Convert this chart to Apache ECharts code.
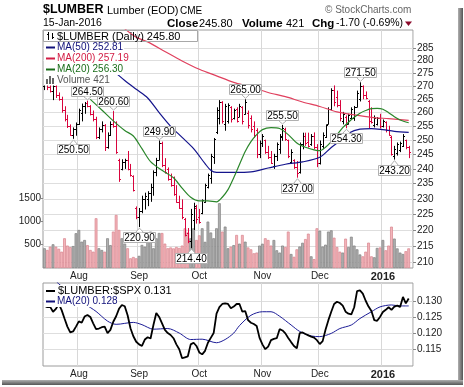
<!DOCTYPE html>
<html><head><meta charset="utf-8">
<script src="https://cdn.jsdelivr.net/npm/echarts@6/dist/echarts.min.js"></script>
<style>html,body{margin:0;padding:0;background:#fff}#c{width:464px;height:387px}</style>
</head><body><div id="c"></div>
<script>
// ---------- categories (trading days) ----------
const tradingDays = {
  '2015-07': [16,17,20,21,22,23,24,27,28,29,30,31],
  '2015-08': [3,4,5,6,7,10,11,12,13,14,17,18,19,20,21,24,25,26,27,28,31],
  '2015-09': [1,2,3,4,8,9,10,11,14,15,16,17,18,21,22,23,24,25,28,29,30],
  '2015-10': [1,2,5,6,7,8,9,12,13,14,15,16,19,20,21,22,23,26,27,28,29,30],
  '2015-11': [2,3,4,5,6,9,10,11,12,13,16,17,18,19,20,23,24,25,27,30],
  '2015-12': [1,2,3,4,7,8,9,10,11,14,15,16,17,18,21,22,23,24,28,29,30,31],
  '2016-01': [4,5,6,7,8,11,12,13,14,15]
};
const monthTickLabels = {'2015-08':'Aug','2015-09':'Sep','2015-10':'Oct','2015-11':'Nov','2015-12':'Dec','2016-01':'2016'};

// ---------- price OHLC ----------
const openP = [270,271.5,269.5,268,270,266.5,265,261,257.5,255,252,254,255.8,260,262.5,263.5,262.5,259.5,257.5,251,254,255.5,247.5,252,256,255,243,240,242.5,243,240,237.5,227,224,226,230,230,232,234,239,243,249,241.5,240,236.5,234.5,231.5,229,227,223.4,219,216.5,223,227,224,225.5,229,234,237,244,253,258,264,256,257,262,258,261.5,258.5,262,259.5,260,258,255,253.5,245,249,250,246,244,241,244.5,247,251,254,250,242.5,243,240.5,239,248.5,251.5,249.5,248.5,251.5,247.5,242,248,251,256,261.5,268.5,266,263,257,258.5,256,258,258,262,265,270,266.5,264.5,257,255.5,256,258,255,256.5,253.5,251,244.5,245.5,246.5,248,250,247.5];
const highP = [273,273,271,271,270.5,267.6,266,262.4,259.2,255.7,254.6,256.4,261.5,263.4,264,264.5,262.8,260.8,258.5,254.6,256.8,255.8,252.8,256.8,260.6,256.8,243.5,243.3,243.5,246.2,241.7,237.8,227.5,227,231,232,232.5,235,239.5,243.8,249.9,249.5,243.7,240.5,238.4,237.4,234.5,231,229.8,223.8,220.6,226.7,228.7,228,226.7,229.8,235,238.4,245.2,250.8,262,264.7,264.3,263.3,263.5,262.4,261.5,262,263.3,262.4,265,260.8,259,256.8,254.3,249.9,252.2,250.2,248,246.2,245.2,249.2,252.2,255.5,254.5,250.2,246.8,243.3,242.7,249.2,252.7,252.7,252.7,252.2,252.8,248.6,249.9,252.8,255.7,262,269.2,270.3,268.3,264.7,260.3,259,259.6,262,262.5,268.3,271.5,270.3,268,264.7,262,259,258.4,259.6,257.5,256.8,255.2,251.6,248,249.2,249.5,252.2,250.2,248];
const lowP = [268.5,268.5,267.6,264.7,265.5,264.5,260,256.8,254.4,251.6,250.5,251.6,255.5,256.8,259.6,262,259,256.8,250.4,250.4,252.8,246.2,247,251.5,254.5,245.2,235.6,239.5,240,239.5,237.4,232.4,223.4,220.9,225.3,226.5,227.6,229,231,237.5,243,240.6,238.4,236,234,231,228.7,226.7,223.4,218,215.9,214.4,220,222,222,225,228.7,233.4,235,241.7,252.2,255.7,256,253.4,256,256.4,257.5,256.4,258.4,255.7,259.3,254.2,252.8,250.8,243.7,243.7,247.6,245.2,243.4,241.7,240,242.7,245.2,249.8,249.8,243.7,241.7,240,237,238.4,246.8,248,247.4,248,246.8,240.6,241.5,246.8,250.8,255.7,260.9,262.4,262,256.8,255.7,254.3,255.7,257.5,257,262,264.2,265,265,254.2,256,254.6,255.3,254.2,254.6,252.8,251.6,244.6,243.2,244.6,245.8,247.6,246.8,243.7];
const closeP = [271.5,269.5,268,270,266.5,265,261,257.5,255,252,254,255.8,261,262.5,263.5,262.5,259.5,257.5,251,254,255.5,247.5,252,256,255,246,236.5,242.5,243,240,238,233,224,226,230,231,232,234,239,243,249,241.5,239,236.5,234.5,231.5,229,227,224,218.5,216.5,225,227.5,223.5,222.5,229.5,234.5,238,244.5,250.5,261,264,257,262.5,263,257.5,261,257,262.5,257,264,255.5,254,252,245,249,251.5,246,244,242,244.5,248.5,251.5,254.5,250.5,244.5,246,240.5,238.5,248.5,251.5,249,248,251.5,247.5,242,248.5,252,255.5,261.5,268.5,264,263,258,259.5,256,259,261.5,262.2,267.5,270,266.5,265.5,257,256.5,258,258.2,255,257,253.5,252,245,247,248.5,249,251.5,247.5,245.8];
const volume = [423,386,457,508,457,412,350,637,480,447,470,745,815,564,600,490,386,350,1066,423,386,350,637,490,780,1137,815,637,522,423,208,236,208,260,494,457,637,780,423,637,750,750,522,423,440,420,450,430,480,851,760,637,851,600,700,851,560,994,760,637,851,1388,780,887,423,457,490,708,522,708,564,440,400,315,330,480,520,637,600,480,600,380,330,480,450,780,300,240,400,460,540,620,736,250,190,851,800,460,500,780,807,650,450,350,330,629,450,670,480,400,290,250,350,543,250,230,430,440,600,380,480,886,630,420,330,300,360,421];

// moving averages at sample days: [dayIndex, value]
const ma20Price = [[16,265],[20,261],[24,257],[28,253.5],[31,251.5],[34,247],[37,242.5],[41,239.5],[45,237],[48,233.5],[51,230.5],[54,229.3],[57,229.3],[60,229],[62,230.5],[64,233],[66,237],[68,241.5],[70,246],[72,249.5],[74,252],[76,253.8],[79,254.5],[82,254.2],[85,252],[88,249],[91,247.5],[94,246.6],[96,246.3],[98,247.5],[100,249.5],[102,252],[104,254.5],[106,256.5],[108,258.3],[110,259.8],[112,260.8],[114,261.5],[116,261.6],[118,261.3],[120,260],[122,258.5],[124,257.3],[127,256.3]];
const ma50Price = [[20,279.5],[24,276],[28,272.2],[32,268.8],[36,265.5],[40,260],[44,255],[48,251],[52,247],[56,241.8],[58,239.5],[60,238.8],[66,238.8],[72,239],[78,240.3],[84,241.6],[90,242.4],[96,244],[100,247.4],[104,250.5],[106,252.5],[110,254],[114,254.2],[118,253.8],[122,253.2],[127,252.8]];
const ma200Price = [[28,293],[32,289.5],[36,287.6],[42,283.7],[48,279.9],[54,276.6],[60,274],[66,271.5],[72,269.7],[78,267.6],[84,266],[90,264],[96,262.3],[102,260.3],[108,259.2],[114,258.3],[120,257.8],[127,257.2]];

// annotated highs (1) and lows (0)
const priceNotes = [[15,264.5,1],[10,250.5,0],[24,260.6,1],[40,249.9,1],[33,220.9,0],[51,214.4,0],[70,265.0,1],[83,255.5,1],[88,237.0,0],[105,254.3,0],[110,271.5,1],[122,243.2,0]];

// ---------- ratio panel ----------
const ratio = [0.1285,0.1280,0.1281,0.1266,0.1275,0.1290,0.1271,0.1245,0.1220,0.1202,0.1205,0.1220,0.1236,0.1232,0.1251,0.1256,0.1250,0.1230,0.1212,0.1214,0.1218,0.1220,0.1200,0.1210,0.1235,0.1252,0.1275,0.1287,0.1283,0.1255,0.1215,0.1190,0.1173,0.1165,0.1160,0.1180,0.1187,0.1183,0.1225,0.1262,0.1250,0.1230,0.1210,0.1200,0.1194,0.1184,0.1165,0.1150,0.1122,0.1125,0.1128,0.1165,0.1170,0.1160,0.1140,0.1134,0.1145,0.1170,0.1185,0.1200,0.1260,0.1280,0.1290,0.1292,0.1290,0.1277,0.1282,0.1290,0.1290,0.1266,0.1268,0.1240,0.1232,0.1228,0.1222,0.1185,0.1165,0.1150,0.1158,0.1178,0.1182,0.1184,0.1212,0.1208,0.1199,0.1185,0.1172,0.1160,0.1153,0.1200,0.1202,0.1197,0.1193,0.1189,0.1186,0.1178,0.1166,0.1175,0.1210,0.1240,0.1266,0.1290,0.1297,0.1293,0.1285,0.1266,0.1260,0.1258,0.1280,0.1330,0.1332,0.1322,0.1300,0.1282,0.1268,0.1240,0.1238,0.1250,0.1265,0.1272,0.1280,0.1272,0.1282,0.1285,0.1281,0.1312,0.1292,0.1307];
const ratioMa20 = [[4,0.1362],[5,0.1352],[10,0.1318],[14,0.1291],[18,0.1267],[22,0.1237],[25,0.1227],[31,0.1233],[34,0.1226],[38,0.1212],[43,0.1214],[47,0.1200],[51,0.1180],[55,0.1181],[60,0.1170],[63,0.1180],[66,0.1200],[68,0.1223],[72,0.1255],[76,0.1266],[79,0.1266],[82,0.1252],[86,0.1225],[89,0.1205],[93,0.1191],[96,0.1189],[100,0.1199],[103,0.1214],[107,0.1225],[110,0.1245],[114,0.1266],[117,0.1281],[121,0.1287],[124,0.1284],[127,0.1284]];

const priceTicks = [210,215,220,225,230,235,240,245,250,255,260,265,270,275,280,285];
const volumeTicks = [500,1000,1500];
const ratioTicks = [0.115,0.120,0.125,0.130];

// ---------- build ----------
const categories = [];
const monthStart = {};
Object.keys(tradingDays).forEach(m => {
  tradingDays[m].forEach((d, k) => {
    const s = m + '-' + String(d).padStart(2, '0');
    if (k === 0 && monthTickLabels[m]) monthStart[categories.length] = monthTickLabels[m];
    categories.push(s);
  });
});
categories.push(''); // empty slot at right edge

const FONT = '"Liberation Sans", Arial, sans-serif';
const RED = '#d9043d';
const upFlag = closeP.map((c, i) => (i === 0 ? 1 : (c > closeP[i - 1] ? 1 : 0)));
const ohlcData = closeP.map((c, i) => [i, openP[i], highP[i], lowP[i], c, upFlag[i]]);
const volData = volume.map((v, i) => ({
  value: v,
  itemStyle: upFlag[i] ? {color: '#b0b0b0', borderColor: '#808080', borderWidth: 0.7}
                       : {color: '#f3b5ba', borderColor: '#d8848e', borderWidth: 0.7}
}));

function renderOHLC(params, api) {
  const i = api.value(0);
  const pO = api.coord([i, api.value(1)]);
  const yH = api.coord([i, api.value(2)])[1];
  const yL = api.coord([i, api.value(3)])[1];
  const yC = api.coord([i, api.value(4)])[1];
  const col = api.value(5) === 1 ? '#000' : RED;
  const x = Math.round(pO[0]) + 0.5;
  const st = {stroke: col, lineWidth: 1};
  const yo = Math.round(pO[1]) + 0.5, yc = Math.round(yC) + 0.5;
  return {type: 'group', children: [
    {type: 'line', shape: {x1: x, y1: yH, x2: x, y2: Math.max(yL, yH + 1)}, style: st},
    {type: 'line', shape: {x1: x - 1.5, y1: yo, x2: x, y2: yo}, style: st},
    {type: 'line', shape: {x1: x, y1: yc, x2: x + 1.5, y2: yc}, style: st}
  ]};
}
function renderNote(params, api) {
  const idx = api.value(0), val = api.value(1), hi = api.value(2) === 1;
  const p = api.coord([idx, val]);
  const x = Math.round(p[0]) + 0.5, y = p[1];
  const w = 32, h = 10;
  const top = Math.round(hi ? y - 5 - h : y + 5) + 0.5;
  const yb = hi ? top + h : top;
  const tip = hi ? y - 1 : y + 1;
  return {type: 'group', children: [
    {type: 'polygon', shape: {points: [[x - 4, yb], [x, tip], [x + 4, yb]]}, style: {fill: '#fff', stroke: '#b0b0b0', lineWidth: 1}},
    {type: 'rect', shape: {x: Math.round(x - w / 2) - 0.5, y: top, width: w, height: h}, style: {fill: '#fff', stroke: '#b0b0b0', lineWidth: 1}},
    {type: 'polygon', shape: {points: [[x - 3, yb], [x, tip + (hi ? -1.5 : 1.5)], [x + 3, yb]]}, style: {fill: '#fff'}},
    {type: 'text', style: {text: val.toFixed(2), x: x, y: top + h / 2 + 0.5, align: 'center', verticalAlign: 'middle', font: '10px ' + FONT, fill: '#000'}}
  ]};
}

function mkX(gi) {
  return {
    type: 'category', gridIndex: gi, data: categories, boundaryGap: true,
    axisLine: {show: false}, axisTick: {show: false},
    axisLabel: {
      interval: (idx) => monthStart[idx] !== undefined,
      formatter: (v, idx) => {
        const lab = monthStart[idx] || '';
        return lab === '2016' ? '{b|2016}' : '{a|' + lab + '}';
      },
      margin: 3,
      rich: {
        a: {fontSize: 10, color: '#222', fontFamily: FONT},
        b: {fontSize: 11, fontWeight: 'bold', color: '#222', fontFamily: FONT}
      }
    },
    splitLine: {show: true, interval: (idx) => monthStart[idx] !== undefined, lineStyle: {color: '#d8d8d8', width: 1}}
  };
}

const txt = (x, y, text, font, fill, extra) => Object.assign({type: 'text', x: x, y: y, z: 100,
  style: Object.assign({text: text, font: font, fill: fill || '#000', verticalAlign: 'middle'}, (extra || {}))});
const hline = (x1, x2, y, color, w) => ({type: 'line', z: 102, shape: {x1: x1, y1: y, x2: x2, y2: y}, style: {stroke: color, lineWidth: w}});

const graphic = [
  // frame shadow
  {type: 'rect', z: 1, shape: {x: 458, y: 8, width: 5, height: 377}, style: {fill: new echarts.graphic.LinearGradient(0, 0, 1, 0, [{offset: 0, color: '#b0b0b0'}, {offset: 1, color: '#555'}])}},
  {type: 'rect', z: 1, shape: {x: 2, y: 380, width: 461, height: 5}, style: {fill: new echarts.graphic.LinearGradient(0, 0, 0, 1, [{offset: 0, color: '#b0b0b0'}, {offset: 1, color: '#555'}])}},
  // header
  txt(43, 9.5, '$LUMBER', 'bold 12.5px ' + FONT),
  txt(107, 10.5, 'Lumber (EOD)', '11px ' + FONT),
  txt(180, 11, 'CME', '10px ' + FONT),
  txt(43, 23.5, '15-Jan-2016', '10.5px ' + FONT),
  txt(167, 23.5, 'Close', 'bold 11.5px ' + FONT),
  txt(199, 23.5, '245.80', '11px ' + FONT),
  txt(242, 23.5, 'Volume', 'bold 11.5px ' + FONT),
  txt(286, 23.5, '421', '11px ' + FONT),
  txt(312, 23.5, 'Chg', 'bold 11.5px ' + FONT),
  txt(336, 23.5, '-1.70 (-0.69%)', '10.5px ' + FONT),
  {type: 'polygon', z: 100, shape: {points: [[405, 21.5], [412, 21.5], [408.5, 26]]}, style: {fill: '#8b0a2a'}},
  txt(325, 10, '\u00A9 StockCharts.com', '10px ' + FONT, '#666'),
  // price legend
  {type: 'rect', z: 99, shape: {x: 43.5, y: 30.5, width: 154, height: 11}, style: {fill: 'rgba(255,255,255,0)', stroke: '#a8a8a8', lineWidth: 1}},
  {type: 'line', z: 102, shape: {x1: 48.5, y1: 32, x2: 48.5, y2: 40}, style: {stroke: '#000', lineWidth: 1}},
  {type: 'line', z: 102, shape: {x1: 52.5, y1: 33, x2: 52.5, y2: 39}, style: {stroke: '#000', lineWidth: 1}},
  {type: 'line', z: 102, shape: {x1: 47, y1: 34.5, x2: 48.5, y2: 34.5}, style: {stroke: '#000', lineWidth: 1}},
  {type: 'line', z: 102, shape: {x1: 52.5, y1: 37.5, x2: 54, y2: 37.5}, style: {stroke: '#000', lineWidth: 1}},
  txt(57, 36.5, '$LUMBER (Daily) 245.80', '11px ' + FONT, '#000'),
  txt(44, 47.5, 'MA(50) 252.81', '10px ' + FONT, '#10107a', {backgroundColor: '#fff', padding: [1, 1, 0, 13]}),
  hline(46, 55, 47.5, '#10107a', 2),
  txt(44, 58.5, 'MA(200) 257.19', '10px ' + FONT, '#d21c44', {backgroundColor: '#fff', padding: [1, 1, 0, 13]}),
  hline(46, 55, 58.5, '#d21c44', 2),
  txt(44, 69.5, 'MA(20) 256.30', '10px ' + FONT, '#1a6e1a', {backgroundColor: '#fff', padding: [1, 1, 0, 13]}),
  hline(46, 55, 69.5, '#1a6e1a', 2),
  txt(44, 80, 'Volume 421', '10px ' + FONT, '#555', {backgroundColor: '#fff', padding: [1, 1, 0, 13]}),
  {type: 'rect', z: 102, shape: {x: 46, y: 79, width: 2, height: 5}, style: {fill: '#666'}},
  {type: 'rect', z: 102, shape: {x: 49, y: 76, width: 2, height: 8}, style: {fill: '#666'}},
  {type: 'rect', z: 102, shape: {x: 52, y: 78, width: 2, height: 6}, style: {fill: '#666'}},
  // ratio legend
  txt(44, 291, '$LUMBER:$SPX 0.131', '11px ' + FONT, '#000', {backgroundColor: '#fff', padding: [1, 1, 0, 14]}),
  hline(46, 55, 291, '#000', 2),
  txt(44, 301.5, 'MA(20) 0.128', '10px ' + FONT, '#10107a', {backgroundColor: '#fff', padding: [1, 1, 0, 13]}),
  hline(46, 55, 301.5, '#10107a', 2)
];

const option = {
  animation: false,
  backgroundColor: '#fff',
  grid: [
    {left: 43, top: 30, width: 370, height: 238, show: true, borderColor: '#9c9c9c', borderWidth: 1, backgroundColor: '#fff'},
    {left: 43, top: 283, width: 370, height: 83, show: true, borderColor: '#9c9c9c', borderWidth: 1, backgroundColor: '#fff'}
  ],
  xAxis: [mkX(0), mkX(1)],
  yAxis: [
    {type: 'log', logBase: 10, gridIndex: 0, position: 'right', min: 208.4, max: 292.5,
     axisLine: {show: false},
     axisTick: {show: true, length: 3, lineStyle: {color: '#888'}, customValues: priceTicks},
     axisLabel: {customValues: priceTicks, fontSize: 10, color: '#222', fontFamily: FONT, margin: 4},
     splitLine: {show: true, lineStyle: {color: '#dedede', width: 1}}},
    {type: 'value', gridIndex: 0, position: 'left', min: 0, max: 5100,
     axisLine: {show: false},
     axisTick: {show: true, length: 2, lineStyle: {color: '#888'}, customValues: volumeTicks},
     axisLabel: {customValues: volumeTicks, fontSize: 10, color: '#222', fontFamily: FONT, margin: 2, formatter: v => String(v)},
     splitLine: {show: false}},
    {type: 'value', gridIndex: 1, position: 'right', min: 0.1098, max: 0.1355,
     axisLine: {show: false},
     axisTick: {show: true, length: 3, lineStyle: {color: '#888'}, customValues: ratioTicks},
     axisLabel: {customValues: ratioTicks, fontSize: 10, color: '#222', fontFamily: FONT, margin: 4, formatter: v => v.toFixed(3)},
     splitLine: {show: true, lineStyle: {color: '#dedede', width: 1}}}
  ],
  series: [
    {type: 'bar', xAxisIndex: 0, yAxisIndex: 1, data: volData, barCategoryGap: '4%', z: 1, silent: true},
    {type: 'custom', xAxisIndex: 0, yAxisIndex: 0, data: ohlcData, renderItem: renderOHLC, encode: {x: 0, y: [2, 3]}, z: 3, silent: true},
    {type: 'line', xAxisIndex: 0, yAxisIndex: 0, data: ma200Price, smooth: 0.3, symbol: 'none', lineStyle: {color: '#e0405e', width: 1.2}, z: 4, silent: true},
    {type: 'line', xAxisIndex: 0, yAxisIndex: 0, data: ma50Price, smooth: 0.3, symbol: 'none', lineStyle: {color: '#14148c', width: 1.2}, z: 4, silent: true},
    {type: 'line', xAxisIndex: 0, yAxisIndex: 0, data: ma20Price, smooth: 0.3, symbol: 'none', lineStyle: {color: '#2a862a', width: 1.2}, z: 4, silent: true},
    {type: 'custom', xAxisIndex: 0, yAxisIndex: 0, data: priceNotes, renderItem: renderNote, encode: {x: 0, y: 1}, z: 6, silent: true},
    {type: 'line', xAxisIndex: 1, yAxisIndex: 2, data: ratio, symbol: 'none', lineStyle: {color: '#000', width: 1.8}, z: 4, silent: true},
    {type: 'line', xAxisIndex: 1, yAxisIndex: 2, data: ratioMa20, smooth: 0.3, symbol: 'none', lineStyle: {color: '#1c1c96', width: 1}, z: 3, silent: true}
  ],
  graphic: graphic
};
const chart = echarts.init(document.getElementById('c'), null, {renderer: 'canvas'});
chart.setOption(option);
</script>
</body></html>
